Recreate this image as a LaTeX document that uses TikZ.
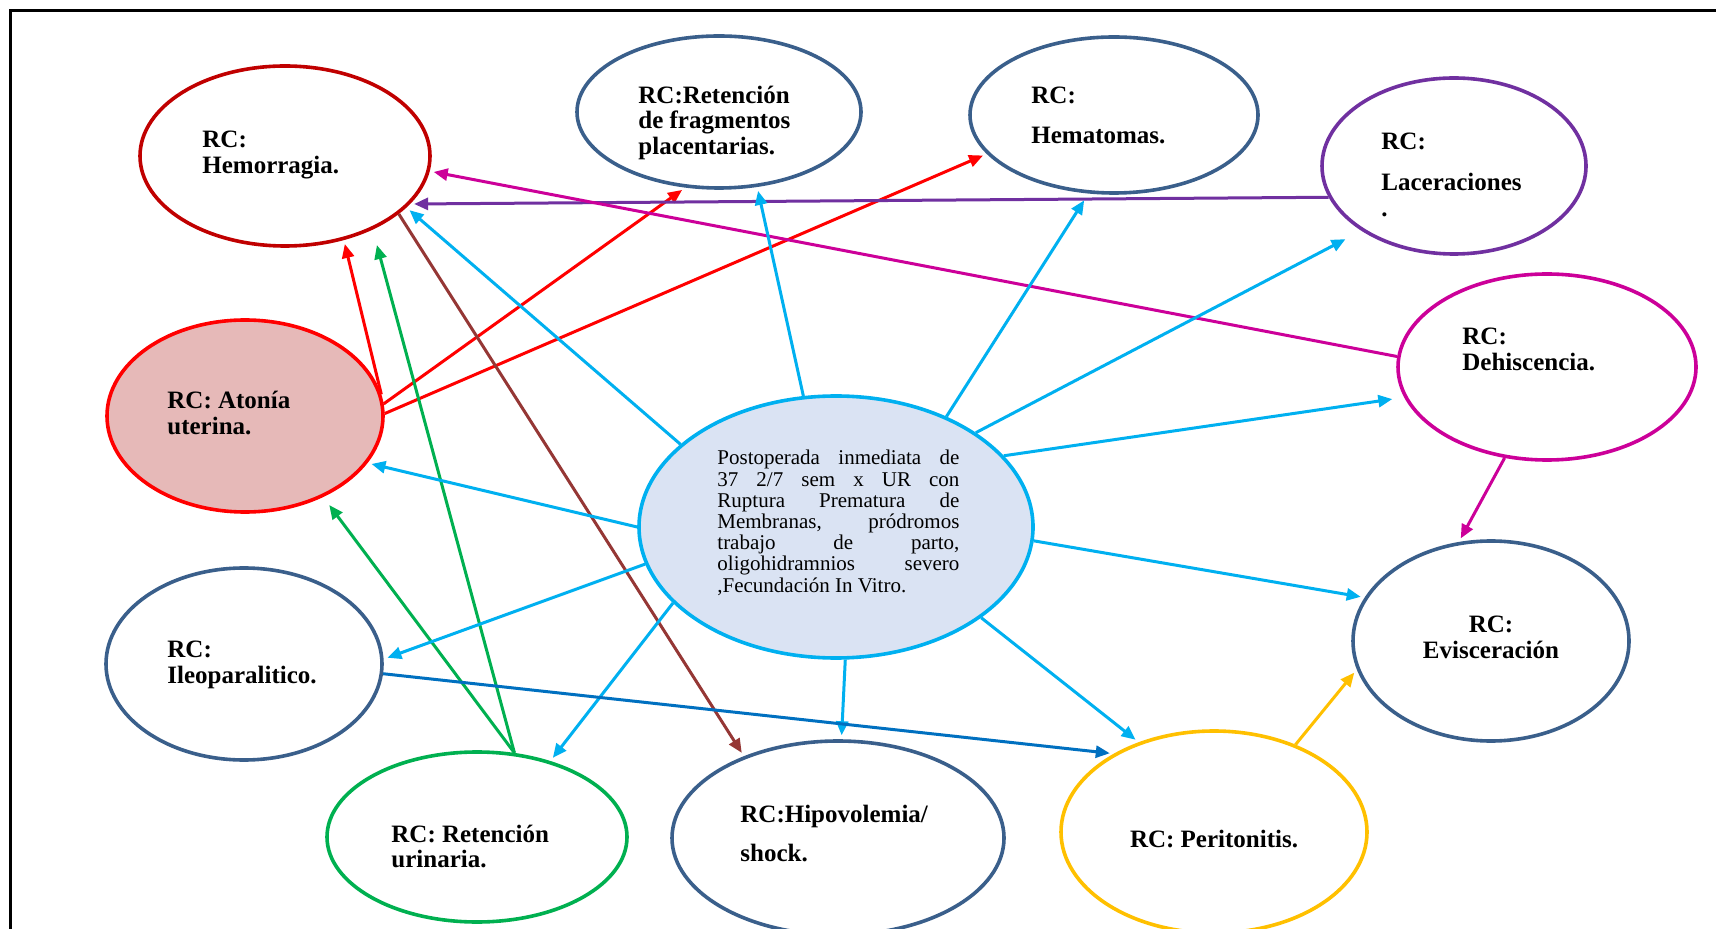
\documentclass[tikz,border=0pt]{standalone}
\usepackage{fontspec}
\setmainfont{Liberation Serif}
\usetikzlibrary{shapes.geometric,arrows.meta}
\definecolor{hemred}{HTML}{C00000}
\definecolor{steel}{HTML}{3A5F8B}
\definecolor{purp}{HTML}{7030A0}
\definecolor{mag}{HTML}{CC0099}
\definecolor{atred}{HTML}{FF0000}
\definecolor{atfill}{HTML}{E6B9B8}
\definecolor{cyanb}{HTML}{00B0F0}
\definecolor{cenfill}{HTML}{DAE3F3}
\definecolor{grn}{HTML}{00B050}
\definecolor{gold}{HTML}{FFC000}
\definecolor{brwn}{HTML}{953735}
\definecolor{blu}{HTML}{0070C0}
\newcommand\rcfont{\fontsize{12.5}{13}\selectfont\bfseries}
\newcommand\cenfont{\fontsize{10.5}{10.6}\selectfont}
\tikzset{
  ell/.style={ellipse, draw, line width=1.8pt, inner sep=0pt},
  lab/.style={font=\rcfont, anchor=base west, inner sep=0pt},
  labc/.style={font=\rcfont, anchor=base, inner sep=0pt},
  arr/.style={line width=1.5pt, -{Triangle[length=7pt,width=6pt]}, shorten >=2pt},
  frame/.style={line width=1.5pt, black}
}
\begin{document}
\begin{tikzpicture}[x=0.5pt,y=-0.5pt]
\fill[white] (0,0) rectangle (1716,929);
\useasboundingbox (0,0) rectangle (1716,929);
\clip (0,0) rectangle (1716,929);
\coordinate (fTL) at (10,11);
\coordinate (fTR) at (1716,11);
\coordinate (fBL) at (10,929);
\draw[frame] (fTR) -- (fTL) -- (fBL);

% ellipses
\node[ell, draw=hemred, minimum width=145pt, minimum height=90pt] (hem) at (285,156) {};
\node[ell, draw=steel, minimum width=142pt, minimum height=76pt] (frag) at (719,112) {};
\node[ell, draw=steel, minimum width=144pt, minimum height=78pt] (hemat) at (1114,115) {};
\node[ell, draw=purp, minimum width=132pt, minimum height=88pt] (lacer) at (1454,166) {};
\node[ell, draw=mag, minimum width=149pt, minimum height=93pt] (dehis) at (1547,367) {};
\node[ell, draw=atred, fill=atfill, minimum width=138pt, minimum height=96pt] (aton) at (245,416) {};
\node[ell, draw=cyanb, fill=cenfill, minimum width=197pt, minimum height=131pt] (cen) at (836,527) {};
\node[ell, draw=steel, minimum width=138pt, minimum height=96pt] (ileo) at (244,664) {};
\node[ell, draw=steel, minimum width=138pt, minimum height=100pt] (evisc) at (1491,641) {};
\node[ell, draw=grn, minimum width=150pt, minimum height=85pt] (urin) at (477,837) {};
\node[ell, draw=steel, minimum width=166pt, minimum height=97pt] (hipo) at (838,838) {};
\node[ell, draw=gold, minimum width=153pt, minimum height=101pt] (perit) at (1214,832) {};

% labels
\node[lab] (hemT1) at (202,148) {RC:};
\node[lab] (hemT2) at (202,174) {Hemorragia.};
\node[lab] (fragT1) at (638,104) {RC:Retención};
\node[lab] (fragT2) at (638,129) {de fragmentos};
\node[lab] (fragT3) at (638,155) {placentarias.};
\node[lab] (hematT1) at (1031,104) {RC:};
\node[lab] (hematT2) at (1031,144) {Hematomas.};
\node[lab] (lacerT1) at (1381,150) {RC:};
\node[lab] (lacerT2) at (1381,191) {Laceraciones};
\node[lab] (lacerT3) at (1381,217) {.};
\node[lab] (dehisT1) at (1462,345) {RC:};
\node[lab] (dehisT2) at (1462,371) {Dehiscencia.};
\node[lab] (atonT1) at (167,409) {RC: Atonía};
\node[lab] (atonT2) at (167,435) {uterina.};
\node[lab] (ileoT1) at (167,657) {RC:};
\node[lab] (ileoT2) at (167,683) {Ileoparalitico.};
\node[labc] (eviscT1) at (1491,632) {RC:};
\node[labc] (eviscT2) at (1491,658) {Evisceración};
\node[lab] (urinT1) at (391,842) {RC: Retención};
\node[lab] (urinT2) at (391,867) {urinaria.};
\node[lab] (hipoT1) at (740,822) {RC:Hipovolemia/};
\node[lab] (hipoT2) at (740,861) {shock.};
\node[labc] (peritT) at (1214,847) {RC: Peritonitis.};
\node[anchor=north west, inner sep=0pt, text width=121pt, align=justify, font=\cenfont] (cenT) at (717,450)
{\hyphenpenalty=10000 Postoperada inmediata de\linebreak 37 2/7 sem x UR con\linebreak Ruptura Prematura de\linebreak Membranas, pródromos\linebreak trabajo de parto,\linebreak oligohidramnios severo\linebreak ,Fecundación In Vitro.};

% connectors
\draw[arr, atred] (aton.9) -- (hem.-55);
\draw[arr, atred] (aton.5) -- (frag.-114);
\draw[arr, atred] (aton.1) -- (hemat.-163);
\draw[arr, grn, shorten >=8pt] (urin.66) -- (hem.-40);
\draw[arr, grn, shorten >=5pt] (urin.66) -- (aton.-46);
\draw[arr, brwn] (hem.-27) -- (hipo.139);
\draw[arr, purp] (lacer.-166) -- (hem.-21);
\draw[arr, mag] (dehis.176) -- (hem.-6);
\draw[arr, mag] (dehis.-115) -- (evisc.108);
\draw[arr, cyanb] (cen.152) -- (hem.-23);
\draw[arr, cyanb] (cen.104) -- (frag.-63);
\draw[arr, cyanb, shorten >=4pt] (cen.45) -- (hemat.-108);
\draw[arr, cyanb, shorten >=9pt] (cen.34) -- (lacer.-145);
\draw[arr, cyanb, shorten >=6pt] (cen.23) -- (dehis.-168);
\draw[arr, cyanb] (cen.-4) -- (evisc.161);
\draw[arr, cyanb] (cen.-32) -- (perit.130);
\draw[arr, cyanb] (cen.-86) -- (hipo.88);
\draw[arr, cyanb] (cen.-155) -- (urin.46);
\draw[arr, cyanb] (cen.-169) -- (ileo.2);
\draw[arr, cyanb] (cen.180) -- (aton.-21);
\draw[arr, blu] (ileo.-4) -- (perit.142);
\draw[arr, gold] (perit.47) -- (evisc.-168);
\end{tikzpicture}
\end{document}
